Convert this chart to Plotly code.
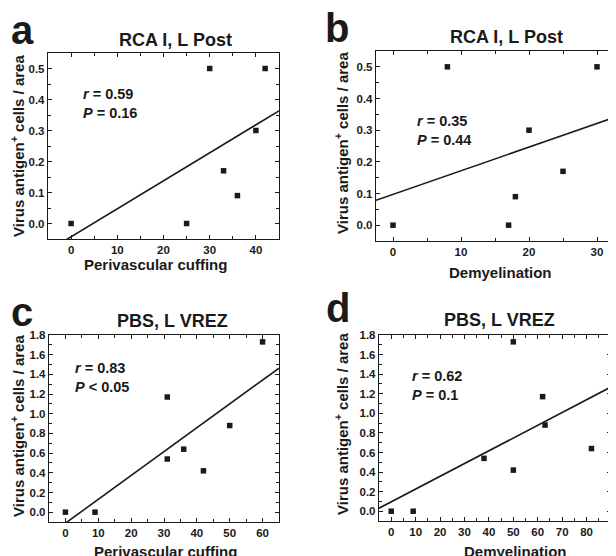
import numpy as np
import plotly.graph_objects as go

# page body has an 8px margin: the figure is drawn 8px in from the window's top-left
OFF = 8
WIN_W, WIN_H = 616, 556
W, H = WIN_W - OFF, WIN_H - OFF

# ---------------- data ----------------
a_x = [0, 25, 30, 33, 36, 40, 42]
a_y = [0.0, 0.0, 0.5, 0.17, 0.09, 0.3, 0.5]
b_x = [0, 8, 17, 18, 20, 25, 30]
b_y = [0.0, 0.5, 0.0, 0.09, 0.3, 0.17, 0.5]
c_x = [0, 9, 31, 31, 36, 42, 50, 60]
c_y = [0.0, 0.0, 1.17, 0.54, 0.64, 0.42, 0.88, 1.73]
d_x = [0, 9, 38, 50, 50, 62, 63, 82]
d_y = [0.0, 0.0, 0.54, 1.73, 0.42, 1.17, 0.88, 0.64]

letters = ["a", "b", "c", "d"]
titles = ["RCA I, L Post", "RCA I, L Post", "PBS, L VREZ", "PBS, L VREZ"]
x_titles = ["Perivascular cuffing", "Demyelination", "Perivascular cuffing", "Demyelination"]
y_title = "Virus antigen<sup>+</sup> cells / area"
stats = [("r", "0.59", "P", "= 0.16"), ("r", "0.35", "P", "= 0.44"),
         ("r", "0.83", "P", "< 0.05"), ("r", "0.62", "P", "= 0.1")]

# ---------------- layout (window pixels) ----------------
panels = [
    dict(x=a_x, y=a_y, box=(48, 279, 53, 239), xr=[-5, 45], yr=[-0.05, 0.55],
         xd=10, xm=5, yd=0.1, ym=0.05,
         letter=(22, 30), title=(175, 40), stat=(81, 103), xt=(155, 264), yt=(17, 146)),
    dict(x=b_x, y=b_y, box=(376, 614, 51, 241), xr=[-2.5, 32.5], yr=[-0.05, 0.55],
         xd=10, xm=5, yd=0.1, ym=0.05,
         letter=(337, 28), title=(506, 37), stat=(415, 130), xt=(500, 273), yt=(341, 143)),
    dict(x=c_x, y=c_y, box=(49, 279, 335, 522), xr=[-5, 65], yr=[-0.1, 1.8],
         xd=10, xm=5, yd=0.2, ym=0.1,
         letter=(22, 312), title=(172, 321), stat=(73, 377), xt=(165, 551), yt=(17, 426)),
    dict(x=d_x, y=d_y, box=(379, 611, 335, 521), xr=[-5, 90], yr=[-0.1, 1.8],
         xd=10, xm=5, yd=0.2, ym=0.1,
         letter=(338, 308), title=(499, 320), stat=(410, 385), xt=(515, 551), yt=(341, 424)),
]

def px(x):
    return (x - OFF) / W

def py(y):
    return 1 - (y - OFF) / H

FONT = "Liberation Sans, Arial, Helvetica, sans-serif"
INK = "#1a1a1a"

fig = go.Figure()
annotations = []
layout_axes = {}

for i, p in enumerate(panels):
    n = "" if i == 0 else str(i + 1)
    xa, ya = "x" + n, "y" + n
    fig.add_trace(go.Scatter(x=p["x"], y=p["y"], mode="markers", xaxis=xa, yaxis=ya,
                             marker=dict(symbol="square", size=5.5, color=INK),
                             showlegend=False))
    k, b0 = np.polyfit(p["x"], p["y"], 1)
    lx = np.array(p["xr"], dtype=float)
    fig.add_trace(go.Scatter(x=lx, y=k * lx + b0, mode="lines", xaxis=xa, yaxis=ya,
                             line=dict(color=INK, width=1.6), showlegend=False))
    l, r, t, bt = p["box"]
    common = dict(showgrid=False, zeroline=False, showline=True, linecolor=INK, linewidth=1.4,
                  mirror="ticks", ticks="inside", ticklen=4, tickwidth=1.2, tickcolor=INK,
                  tickfont=dict(family=FONT, size=11.5, color=INK, weight="bold"),
                  tick0=0)
    layout_axes["xaxis" + n] = dict(common, domain=[px(l), px(r)], range=p["xr"], dtick=p["xd"],
                                    anchor=ya,
                                    minor=dict(dtick=p["xm"], tick0=0, ticks="inside", ticklen=2.5,
                                               tickwidth=1, tickcolor=INK, showgrid=False))
    layout_axes["yaxis" + n] = dict(common, domain=[py(bt), py(t)], range=p["yr"], dtick=p["yd"],
                                    anchor=xa, tickformat=".1f",
                                    minor=dict(dtick=p["ym"], tick0=0, ticks="inside", ticklen=2.5,
                                               tickwidth=1, tickcolor=INK, showgrid=False))
    annotations.append(dict(text="<b>%s</b>" % letters[i], x=px(p["letter"][0]), y=py(p["letter"][1]),
                            xref="paper", yref="paper", showarrow=False, xanchor="center", yanchor="middle",
                            font=dict(family=FONT, size=40, color=INK)))
    annotations.append(dict(text="<b>%s</b>" % titles[i], x=px(p["title"][0]), y=py(p["title"][1]),
                            xref="paper", yref="paper", showarrow=False, xanchor="center", yanchor="middle",
                            font=dict(family=FONT, size=18, color=INK)))
    s = stats[i]
    annotations.append(dict(text="<b><i>%s</i> = %s<br><i>%s</i> %s</b>" % s,
                            x=px(p["stat"][0]), y=py(p["stat"][1]), align="left",
                            xref="paper", yref="paper", showarrow=False, xanchor="left", yanchor="middle",
                            font=dict(family=FONT, size=14.5, color=INK)))
    annotations.append(dict(text="<b>%s</b>" % x_titles[i], x=px(p["xt"][0]), y=py(p["xt"][1]),
                            xref="paper", yref="paper", showarrow=False, xanchor="center", yanchor="middle",
                            font=dict(family=FONT, size=15, color=INK)))
    annotations.append(dict(text="<b>%s</b>" % y_title, x=px(p["yt"][0]), y=py(p["yt"][1]),
                            xref="paper", yref="paper", showarrow=False, xanchor="center", yanchor="middle",
                            textangle=-90, font=dict(family=FONT, size=15, color=INK)))

fig.update_layout(width=W, height=H, margin=dict(l=0, r=0, t=0, b=0, autoexpand=False),
                  paper_bgcolor="white", plot_bgcolor="white",
                  annotations=annotations, **layout_axes)

fig.write_html("out.html")
